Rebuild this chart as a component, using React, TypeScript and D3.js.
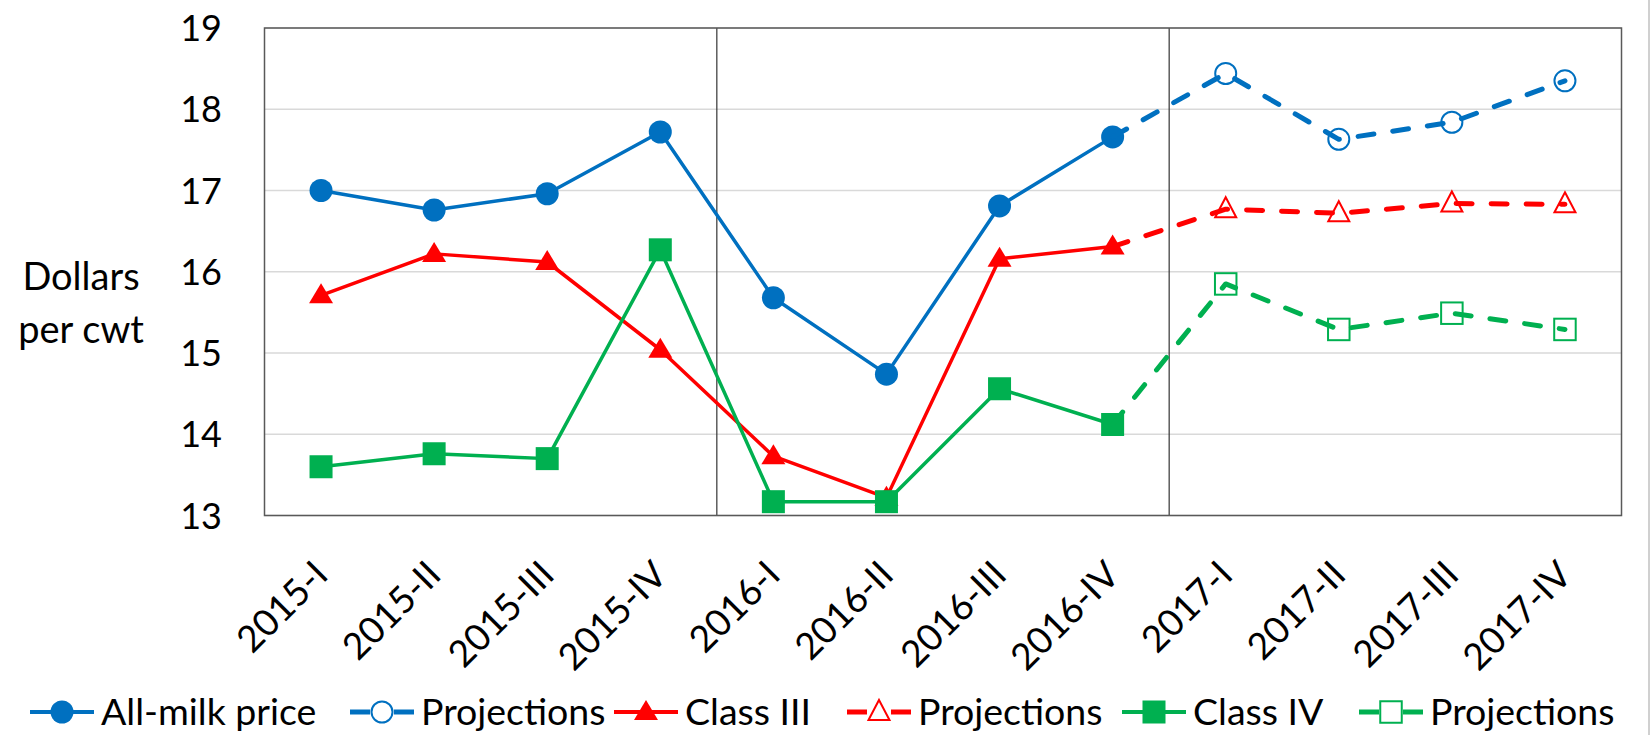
import React from "react";
import * as d3 from "d3";

const categories = ["2015-I","2015-II","2015-III","2015-IV","2016-I","2016-II","2016-III","2016-IV","2017-I","2017-II","2017-III","2017-IV"];
const allMilk = [17.0, 16.76, 16.96, 17.72, 15.68, 14.74, 16.81, 17.66];
const allMilkProj = [17.66, 18.44, 17.63, 17.84, 18.35];
const class3 = [15.71, 16.22, 16.12, 15.04, 13.73, 13.22, 16.16, 16.31];
const class3Proj = [16.31, 16.77, 16.72, 16.84, 16.83];
const class4 = [13.6, 13.76, 13.7, 16.27, 13.17, 13.17, 14.56, 14.12];
const class4Proj = [14.12, 15.85, 15.29, 15.49, 15.29];
const yTicks = [13, 14, 15, 16, 17, 18, 19];
const separators = [4, 8];
const legendLabels = ["All-milk price", "Projections", "Class III", "Projections", "Class IV", "Projections"];

const BLUE = "#0070C0";
const RED = "#FF0000";
const GREEN = "#00B050";
const FONT = "Lato, 'Open Sans', sans-serif";

const W = 1652, H = 735;
const M = { left: 264.5, right: 1621.5, top: 28, bottom: 515.5 };
const LEGEND_SYM_X = [30, 350, 614, 847, 1122, 1359];

type Shape = "circle" | "triangle" | "square";

function Marker({ shape, x, y, color, open }: { shape: Shape; x: number; y: number; color: string; open: boolean }) {
  const fill = open ? "none" : color;
  const sw = open ? 2 : 0;
  if (shape === "circle") {
    const r = open ? 10.5 : 11.5;
    return <circle cx={x} cy={y} r={r} fill={fill} stroke={color} strokeWidth={sw} />;
  }
  if (shape === "square") {
    const s = open ? 21.5 : 23;
    return <rect x={x - s / 2} y={y - s / 2} width={s} height={s} fill={fill} stroke={color} strokeWidth={sw} />;
  }
  const w = open ? 21 : 24, h = 20;
  const p = d3.path();
  p.moveTo(x, y - h * 0.6);
  p.lineTo(x + w / 2, y + h * 0.4);
  p.lineTo(x - w / 2, y + h * 0.4);
  p.closePath();
  return <path d={p.toString()} fill={fill} stroke={color} strokeWidth={sw} strokeLinejoin="miter" />;
}

export default function App() {
  const x = d3.scaleBand<string>().domain(categories).range([M.left, M.right]);
  const cx = (c: string) => (x(c) as number) + x.bandwidth() / 2;
  const y = d3.scaleLinear().domain([13, 19]).range([M.bottom, M.top]);

  const line = d3.line<[number, number]>().x((d) => d[0]).y((d) => d[1]);

  const actual = [
    { vals: allMilk, color: BLUE, shape: "circle" as Shape },
    { vals: class3, color: RED, shape: "triangle" as Shape },
    { vals: class4, color: GREEN, shape: "square" as Shape },
  ];
  const proj = [
    { vals: allMilkProj, color: BLUE, shape: "circle" as Shape },
    { vals: class3Proj, color: RED, shape: "triangle" as Shape },
    { vals: class4Proj, color: GREEN, shape: "square" as Shape },
  ];
  const projStart = 7;

  const series: JSX.Element[] = [];
  actual.forEach((s, i) => {
    const pts: [number, number][] = s.vals.map((v, j) => [cx(categories[j]), y(v)]);
    series.push(
      <g key={"a" + i}>
        <path d={line(pts) || ""} fill="none" stroke={s.color} strokeWidth={3.5} strokeLinejoin="round" />
        {pts.map((p, j) => <Marker key={j} shape={s.shape} x={p[0]} y={p[1]} color={s.color} open={false} />)}
      </g>
    );
    const ps = proj[i];
    const ppts: [number, number][] = ps.vals.map((v, j) => [cx(categories[projStart + j]), y(v)]);
    series.push(
      <g key={"p" + i}>
        <path d={line(ppts) || ""} fill="none" stroke={ps.color} strokeWidth={5} strokeDasharray="16,19" strokeLinecap="round" strokeLinejoin="round" />
        {ppts.slice(1).map((p, j) => <Marker key={j} shape={ps.shape} x={p[0]} y={p[1]} color={ps.color} open={true} />)}
      </g>
    );
  });

  const legendColors = [BLUE, BLUE, RED, RED, GREEN, GREEN];
  const legendShapes: Shape[] = ["circle", "circle", "triangle", "triangle", "square", "square"];
  const legendY = 712;
  const symW = 64;
  const legendFont = 37.5;

  return (
    <div style={{ position: "absolute", left: 0, top: 0 }}>
      <svg width={W} height={H} style={{ display: "block", background: "#fff" }}>
        <line x1={1649} x2={1649} y1={0} y2={H} stroke="#d0d0d0" strokeWidth={2} />
        {yTicks.map((t) => (
          <line key={t} x1={M.left} x2={M.right} y1={y(t)} y2={y(t)} stroke="#D9D9D9" strokeWidth={1.5} />
        ))}
        {separators.map((s) => {
          const xs = M.left + s * x.bandwidth();
          return <line key={s} x1={xs} x2={xs} y1={M.top} y2={M.bottom} stroke="#333" strokeWidth={1.2} />;
        })}
        <rect x={M.left} y={M.top} width={M.right - M.left} height={M.bottom - M.top} fill="none" stroke="#595959" strokeWidth={1.5} />
        {yTicks.map((t) => (
          <text key={t} x={222} y={y(t) + 13} textAnchor="end" fontFamily={FONT} fontSize={36} fill="#000">{t}</text>
        ))}
        <text x={81} y={290} textAnchor="middle" fontFamily={FONT} fontSize={38} fill="#000">Dollars</text>
        <text x={81} y={343} textAnchor="middle" fontFamily={FONT} fontSize={38} fill="#000">per cwt</text>
        {categories.map((c) => (
          <text key={c} transform={`translate(${cx(c) + 9},${577}) rotate(-45)`} textAnchor="end" fontFamily={FONT} fontSize={37} fill="#000">{c}</text>
        ))}
        {series}
        {legendLabels.map((l, i) => {
          const sx = LEGEND_SYM_X[i];
          const tx = sx + symW + 7;
          const open = i % 2 === 1;
          return (
            <g key={i}>
              {open ? (
                <>
                  <line x1={sx} x2={sx + 20} y1={legendY} y2={legendY} stroke={legendColors[i]} strokeWidth={5} />
                  <line x1={sx + symW - 20} x2={sx + symW} y1={legendY} y2={legendY} stroke={legendColors[i]} strokeWidth={5} />
                </>
              ) : (
                <line x1={sx} x2={sx + symW} y1={legendY} y2={legendY} stroke={legendColors[i]} strokeWidth={4} />
              )}
              <Marker shape={legendShapes[i]} x={sx + symW / 2} y={legendY} color={legendColors[i]} open={open} />
              <text x={tx} y={legendY + 13} fontFamily={FONT} fontSize={legendFont} fill="#000">{l}</text>
            </g>
          );
        })}
      </svg>
    </div>
  );
}
